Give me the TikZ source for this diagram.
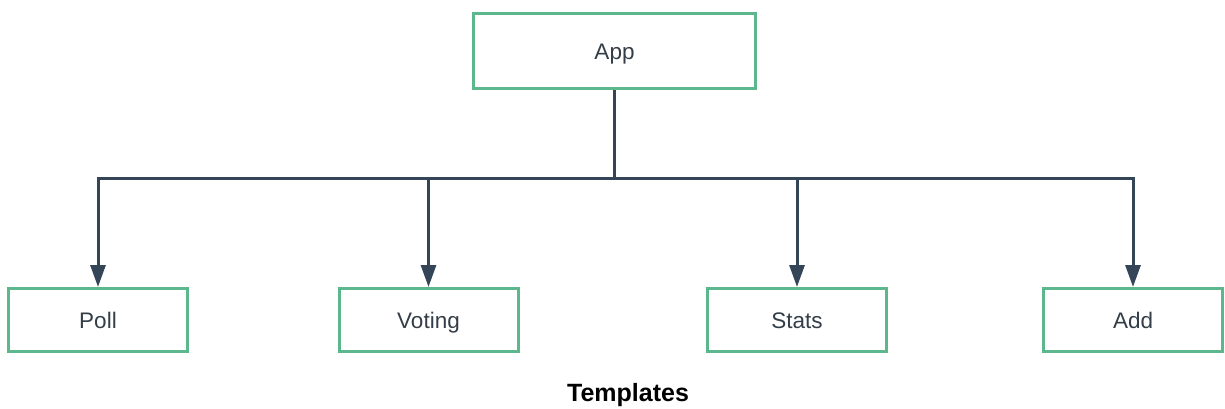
\documentclass[tikz,border=0pt]{standalone}
\usepackage{fontspec}
\setmainfont{Liberation Sans}
\usepackage{xcolor}
\usepackage{tikz}
\usetikzlibrary{positioning,arrows.meta}
\definecolor{boxgreen}{RGB}{92,184,140}
\definecolor{wireblue}{RGB}{52,69,88}
\definecolor{labelgray}{RGB}{51,62,72}

\begin{document}
\begin{tikzpicture}[x=1pt, y=-1pt,
        comp/.style={rectangle, draw=boxgreen, line width=3pt, fill=white,
                     minimum width=179pt, minimum height=63pt, inner sep=0pt,
                     text height=18pt, text depth=2pt,
                     text=labelgray, font=\fontsize{22.5}{26}\selectfont},
        link/.style={wireblue, line width=3pt}
      ]
        \useasboundingbox (0,0) rectangle (1225,409);
        \node[comp, minimum width=282pt, minimum height=75pt] (app) at (614.5,51.5) {App};
        \node[comp] (poll)   at (98,320)    {Poll};
        \node[comp] (voting) at (428.5,320) {Voting};
        \node[comp] (stats)  at (797,320)   {Stats};
        \node[comp] (add)    at (1133,320)  {Add};
        \coordinate (hub) at (614.5,178);
        \draw[link] (app.south) -- (hub);
        \foreach \t in {poll,voting,stats,add}
          \draw[link, -{Triangle[length=22pt,width=15pt]}] (hub) -| (\t.north);
        \node[font=\bfseries\fontsize{25}{30}\selectfont] (tpl) at (628,395) {Templates};
      \end{tikzpicture}
\end{document}
